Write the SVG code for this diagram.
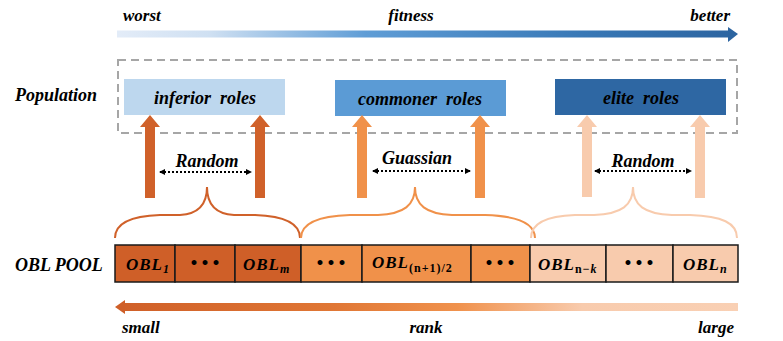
<svg xmlns="http://www.w3.org/2000/svg" width="783" height="341" viewBox="0 0 783 341">
<defs>
<style>
.t{font-family:"Liberation Serif","Times New Roman",serif;font-weight:bold;font-style:italic;fill:#000}
.lbl{font-size:18px}
.ax{font-size:17px}
.obl{font-size:17px;letter-spacing:1px}
.sub{font-size:12px}
.dots{font-family:"DejaVu Sans",sans-serif;font-size:14px;font-weight:bold;letter-spacing:2px;fill:#000}
.cell{stroke:#1a1a1a;stroke-width:1.5}
.dot{stroke:#000;stroke-width:2;stroke-dasharray:2 2;fill:none}
.brace{fill:none;stroke-width:2}
</style>
<linearGradient id="gBlue" x1="117" y1="0" x2="738" y2="0" gradientUnits="userSpaceOnUse">
<stop offset="0" stop-color="#e3ecf8"/>
<stop offset="0.15" stop-color="#cfe0f2"/>
<stop offset="0.4" stop-color="#5f9dd6"/>
<stop offset="0.75" stop-color="#3878b6"/>
<stop offset="1" stop-color="#2c64a0"/>
</linearGradient>
<linearGradient id="gOrange" x1="115" y1="0" x2="738" y2="0" gradientUnits="userSpaceOnUse">
<stop offset="0" stop-color="#cf5f28"/>
<stop offset="0.35" stop-color="#e07735"/>
<stop offset="0.55" stop-color="#f0924d"/>
<stop offset="0.75" stop-color="#f8cbad"/>
<stop offset="1" stop-color="#f9d0b4"/>
</linearGradient>
<marker id="ah" markerWidth="6" markerHeight="6" refX="5" refY="3" orient="auto-start-reverse" markerUnits="userSpaceOnUse">
<path d="M0,0 L6,3 L0,6 Z" fill="#000"/>
</marker>
</defs>
<rect width="783" height="341" fill="#fff"/>

<!-- top fitness arrow -->
<g id="fitness-axis">
<rect x="117" y="30.5" width="612" height="7" fill="url(#gBlue)"/>
<path d="M728,27 L738,34 L728,42 Z" fill="#2c64a0"/>
<text class="t ax" x="123" y="21">worst</text>
<text class="t ax" x="411" y="21" text-anchor="middle">fitness</text>
<text class="t ax" x="730" y="21" text-anchor="end">better</text>
</g>

<text class="t lbl" x="15" y="101">Population</text>
<text class="t lbl" x="15" y="271">OBL POOL</text>

<!-- population dashed container -->
<g id="population">
<rect x="118" y="60" width="619" height="73" fill="none" stroke="#a6a6a6" stroke-width="2" stroke-dasharray="8 5"/>
</g>

<g id="inferior">
<rect x="124" y="79" width="161" height="36" fill="#bdd7ee"/>
<text class="t lbl" x="205" y="104" text-anchor="middle" xml:space="preserve">inferior  roles</text>
</g>
<g id="commoner">
<rect x="335" y="80" width="171" height="36" fill="#5b9bd5"/>
<text class="t lbl" x="420" y="105" text-anchor="middle" xml:space="preserve">commoner  roles</text>
</g>
<g id="elite">
<rect x="555" y="79" width="171" height="36" fill="#2e67a3"/>
<text class="t lbl" x="641" y="104" text-anchor="middle" xml:space="preserve">elite  roles</text>
</g>

<!-- connectors -->
<g id="connectors">
<path d="M145,198 V127 H140 L150,115 L160,127 H155 V198 Z" fill="#d0612a"/>
<path d="M255,198 V127 H250 L260,115 L270,127 H265 V198 Z" fill="#d0612a"/>
<path d="M357,198 V127 H352 L362,115 L372,127 H367 V198 Z" fill="#f0914a"/>
<path d="M475,198 V127 H470 L480,115 L490,127 H485 V198 Z" fill="#f0914a"/>
<path d="M582,197 V127 H577 L587,115 L597,127 H592 V197 Z" fill="#f8cbad"/>
<path d="M695,198 V127 H690 L700,115 L710,127 H705 V198 Z" fill="#f8cbad"/>

<line class="dot" x1="160" y1="172" x2="251" y2="172" marker-start="url(#ah)" marker-end="url(#ah)"/>
<line class="dot" x1="373" y1="171" x2="470" y2="171" marker-start="url(#ah)" marker-end="url(#ah)"/>
<line class="dot" x1="595" y1="171" x2="691" y2="171" marker-start="url(#ah)" marker-end="url(#ah)"/>

<path class="brace" stroke="#d0612a" d="M115,238 C115,223 130,216 160,215 L180,215 C198,214 207,205 207,187 C207,205 216,214 234,215 L255,215 C284,216 300,223 300,238"/>
<path class="brace" stroke="#f0914a" d="M301,238 C301,223 318,216 350,215 L378,215 C404,214 415,205 415,187 C415,205 426,214 452,215 L485,215 C518,216 535,223 535,238"/>
<path class="brace" stroke="#f8cbad" d="M531,238 C531,223 546,216 575,215 L594,215 C622,214 633,205 633,187 C633,205 644,214 672,215 L690,215 C722,216 737,223 737,238"/>
</g>
<text class="t lbl" x="207" y="167" text-anchor="middle">Random</text>
<text class="t lbl" x="417" y="164" text-anchor="middle">Guassian</text>
<text class="t lbl" x="643" y="167" text-anchor="middle">Random</text>

<!-- OBL pool -->
<g id="obl-pool">
<rect class="cell" x="115" y="245" width="60" height="37" fill="#cf5f28"/>
<rect class="cell" x="175" y="245" width="60" height="37" fill="#cf5f28"/>
<rect class="cell" x="235" y="245" width="66" height="37" fill="#cf5f28"/>
<rect class="cell" x="301" y="245" width="61" height="37" fill="#f0914a"/>
<rect class="cell" x="362" y="245" width="109" height="37" fill="#f0914a"/>
<rect class="cell" x="471" y="245" width="59" height="37" fill="#f0914a"/>
<rect class="cell" x="530" y="245" width="76" height="37" fill="#f8cbad"/>
<rect class="cell" x="606" y="245" width="67" height="37" fill="#f8cbad"/>
<rect class="cell" x="673" y="245" width="65" height="37" fill="#f8cbad"/>
<text class="t obl" x="126" y="270">OBL<tspan class="sub" dy="3">1</tspan></text>
<text class="dots" x="206" y="268" text-anchor="middle">•••</text>
<text class="t obl" x="243" y="270">OBL<tspan class="sub" dy="3" font-style="italic">m</tspan></text>
<text class="dots" x="332" y="268" text-anchor="middle">•••</text>
<text class="t obl" x="372" y="268">OBL<tspan class="sub" dy="4" font-style="normal">(n+1)/2</tspan></text>
<text class="dots" x="501" y="268" text-anchor="middle">•••</text>
<text class="t obl" x="538" y="270">OBL<tspan class="sub" dy="3"><tspan font-style="normal">n−</tspan>k</tspan></text>
<text class="dots" x="640" y="268" text-anchor="middle">•••</text>
<text class="t obl" x="683" y="270">OBL<tspan class="sub" dy="3">n</tspan></text>
</g>

<!-- bottom rank arrow -->
<g id="rank-axis">
<rect x="124" y="303" width="614" height="8" fill="url(#gOrange)"/>
<path d="M125,300 L115,307 L125,314 Z" fill="#cf5f28"/>
<text class="t ax" x="122" y="333">small</text>
<text class="t ax" x="426" y="333" text-anchor="middle">rank</text>
<text class="t ax" x="734" y="333" text-anchor="end">large</text>
</g>
</svg>
